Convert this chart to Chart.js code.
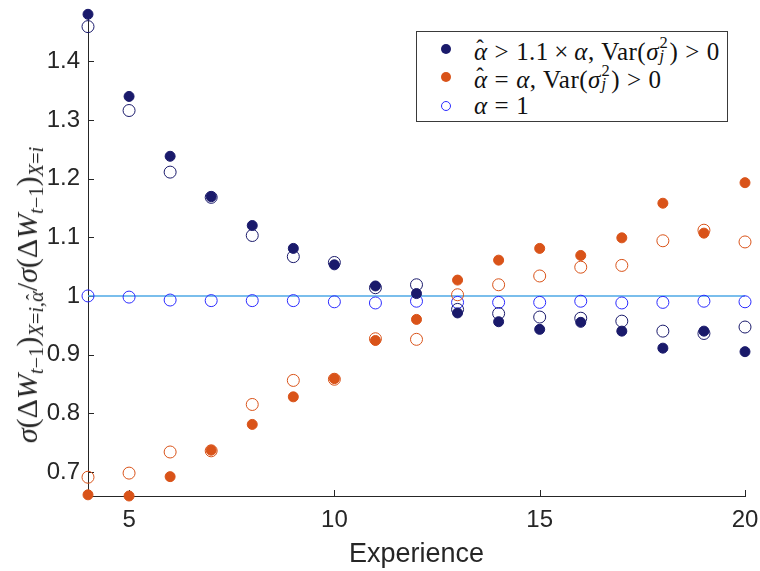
<!DOCTYPE html>
<html>
<head>
<meta charset="utf-8">
<script src="https://cdn.jsdelivr.net/npm/chart.js@4/dist/chart.umd.min.js"></script>
<style>
  html,body{margin:0;padding:0;background:#fff;}
  #wrap{position:relative;width:760px;height:571px;}
  #ytitle{position:absolute;left:27px;top:295px;transform:translate(-50%,-50%) rotate(-90deg);
    white-space:nowrap;font-family:'Liberation Serif',serif;font-size:30px;line-height:1;color:#262626;}
  #ytitle .sb{font-size:0.68em;position:relative;top:0.3em;}
  .hat{position:relative;display:inline-block;}
  .hat .h{position:absolute;left:0.1em;top:-0.12em;font-style:normal;font-size:0.9em;}
  #legend{position:absolute;left:416px;top:31px;width:312px;height:91px;border:1px solid #3a3a3a;background:#fff;
    font-family:'Liberation Serif',serif;font-size:25px;letter-spacing:0.45px;color:#111;box-sizing:border-box;}
  .row{position:absolute;left:0;height:28px;line-height:28px;white-space:nowrap;}
  .mk{position:absolute;left:24px;top:9px;width:10px;height:10px;border-radius:50%;box-sizing:border-box;}
  .txt{position:absolute;left:57px;top:0;}
  .rel{padding:0 0.28em;}
  .bin{padding:0 0.22em;}
  .ss{display:inline-block;position:relative;width:0.42em;height:1em;}
  .ss span{position:absolute;left:0.04em;font-size:0.66em;line-height:1;}
  .ss .up{top:0.02em;}
  .ss .dn{top:0.8em;}
</style>
</head>
<body>
<div id="wrap">
  <canvas id="c" width="760" height="571"></canvas>
  <div id="ytitle"><i>σ</i>(Δ<i>W</i><span class="sb"><i>t</i>−1</span>)<span class="sb"><i>X</i>=<i>i</i>,<span class="hat"><i>α</i><span class="h">ˆ</span></span></span>/<i>σ</i>(Δ<i>W</i><span class="sb"><i>t</i>−1</span>)<span class="sb"><i>X</i>=<i>i</i></span></div>
  <div id="legend">
    <div class="row" style="top:3px;width:100%"><span class="mk" style="background:#1a1a6b"></span><span class="txt"><span class="hat"><i>α</i><span class="h">ˆ</span></span><span class="rel">&gt;</span>1.1<span class="bin">×</span><i>α</i>, Var(<i>σ</i><span class="ss"><span class="up">2</span><span class="dn"><i>j</i></span></span>)<span class="rel">&gt;</span>0</span></div>
    <div class="row" style="top:31px;width:100%"><span class="mk" style="background:#D95319"></span><span class="txt"><span class="hat"><i>α</i><span class="h">ˆ</span></span><span class="rel">=</span><i>α</i>, Var(<i>σ</i><span class="ss"><span class="up">2</span><span class="dn"><i>j</i></span></span>)<span class="rel">&gt;</span>0</span></div>
    <div class="row" style="top:60px;width:100%"><span class="mk" style="border:1.2px solid #2b2bff"></span><span class="txt"><i>α</i><span class="rel">=</span>1</span></div>
  </div>
</div>
<script>
// ---- data ----
const experience = [4,5,6,7,8,9,10,11,12,13,14,15,16,17,18,19,20];
const filledNavy = [1.480,1.340,1.238,1.169,1.120,1.081,1.053,1.017,1.004,0.971,0.956,0.943,0.955,0.940,0.911,0.940,0.905];
const hollowNavy = [1.459,1.316,1.211,1.168,1.103,1.067,1.057,1.014,1.019,0.977,0.970,0.964,0.962,0.957,0.940,0.936,0.947];
const filledOrange = [0.661,0.659,0.692,0.737,0.781,0.828,0.859,0.924,0.960,1.027,1.061,1.081,1.069,1.099,1.158,1.107,1.193];
const hollowOrange = [0.691,0.698,0.734,0.736,0.815,0.856,0.858,0.927,0.926,1.002,1.019,1.034,1.049,1.052,1.094,1.112,1.092];
const hollowBlue = [1.000,0.998,0.993,0.992,0.992,0.992,0.990,0.988,0.991,0.989,0.989,0.989,0.991,0.988,0.989,0.991,0.990];
const refLineX = [4,20];
const refLineY = [1,1];
const xTicks = [5,10,15,20];
const yTicks = [0.7,0.8,0.9,1.0,1.1,1.2,1.3,1.4];

const pts = (xs, ys) => xs.map((x,i)=>({x:x, y:ys[i]}));
const AX = '#262626';

const inwardTicks = {
  id:'inwardTicks',
  beforeDatasetsDraw(chart){
    const {ctx, chartArea:a, scales:{x,y}} = chart;
    ctx.save();
    ctx.strokeStyle = AX; ctx.lineWidth = 1;
    ctx.beginPath();
    xTicks.forEach(v=>{const p=Math.round(x.getPixelForValue(v))+0.5; ctx.moveTo(p,a.bottom); ctx.lineTo(p,a.bottom-6);});
    yTicks.forEach(v=>{const p=Math.round(y.getPixelForValue(v))+0.5; ctx.moveTo(a.left,p); ctx.lineTo(a.left+6,p);});
    ctx.stroke();
    ctx.restore();
  }
};

new Chart(document.getElementById('c'), {
  type:'scatter',
  data:{
    datasets:[
      {label:'filledNavy', data:pts(experience,filledNavy), backgroundColor:'#1a1a6b', borderColor:'#1a1a6b', borderWidth:1, pointRadius:5, clip:false},
      {label:'filledOrange', data:pts(experience,filledOrange), backgroundColor:'#D95319', borderColor:'#D95319', borderWidth:1, pointRadius:5, clip:false},
      {label:'hollowNavy', data:pts(experience,hollowNavy), backgroundColor:'rgba(0,0,0,0)', borderColor:'#1a1a6b', borderWidth:1, pointRadius:6, clip:false},
      {label:'hollowOrange', data:pts(experience,hollowOrange), backgroundColor:'rgba(0,0,0,0)', borderColor:'#D95319', borderWidth:1, pointRadius:6, clip:false},
      {label:'hollowBlue', data:pts(experience,hollowBlue), backgroundColor:'rgba(0,0,0,0)', borderColor:'#2b2bff', borderWidth:1, pointRadius:6, clip:false},
      {type:'line', label:'ref', data:pts(refLineX,refLineY), borderColor:'#4ea8e6', borderWidth:1.5, pointRadius:0, showLine:true, fill:false, clip:false}
    ]
  },
  options:{
    responsive:false, animation:false, events:[],
    layout:{padding:{top:14,right:15,left:0,bottom:0}},
    plugins:{legend:{display:false}, tooltip:{enabled:false}},
    scales:{
      x:{type:'linear', min:4, max:20,
        afterBuildTicks(s){ s.ticks = xTicks.map(v=>({value:v})); },
        afterFit(s){ s.height = 75; s.paddingLeft = 0; s.paddingRight = 0; },
        grid:{display:true, drawOnChartArea:false, drawTicks:false},
        border:{display:true, color:AX, width:1},
        ticks:{color:AX, font:{family:"'Liberation Sans', Arial, sans-serif", size:24}, padding:10, maxRotation:0, autoSkip:false},
        title:{display:true, text:'Experience', color:AX, font:{family:"'Liberation Sans', Arial, sans-serif", size:27}, padding:{top:3,bottom:0}}
      },
      y:{type:'linear', min:0.659, max:1.4805,
        afterBuildTicks(s){ s.ticks = yTicks.map(v=>({value:v})); },
        afterFit(s){ s.width = 88; s.paddingTop = 0; s.paddingBottom = 0; },
        grid:{display:true, drawOnChartArea:false, drawTicks:false},
        border:{display:true, color:AX, width:1},
        ticks:{color:AX, font:{family:"'Liberation Sans', Arial, sans-serif", size:24}, padding:8, autoSkip:false,
          callback:(v)=>String(Math.round(v*10)/10)}
      }
    }
  },
  plugins:[inwardTicks]
});
</script>
</body>
</html>
